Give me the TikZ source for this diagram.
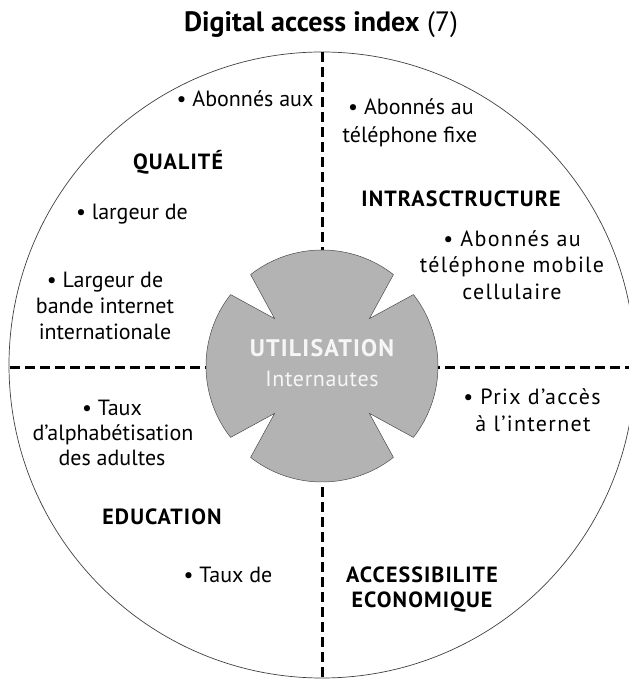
\documentclass[tikz,border=0pt]{standalone}
\usepackage{fontspec}
\setmainfont{PT Sans}
\definecolor{hubgrey}{HTML}{B3B3B3}
\definecolor{hubtext}{HTML}{F6F6F6}
\begin{document}
\begin{tikzpicture}[x=1pt,y=1pt,
  item/.style={font=\fontsize{22}{26}\selectfont, inner sep=0pt, anchor=base},
  spaced/.style={font={\fontsize{22}{26}\selectfont\addfontfeatures{LetterSpace=6}}},
  sector/.style={font={\fontsize{22}{26}\selectfont\bfseries\addfontfeatures{LetterSpace=5}}, inner sep=0pt, anchor=base},
  hublabel/.style={text=hubtext, inner sep=0pt, anchor=base},
  divider/.style={line width=3pt, dash pattern=on 10pt off 5pt},
]
\useasboundingbox (0,0) rectangle (629,680);

% outer wheel
\coordinate (O) at (322,315);
\draw[line width=0.7pt, black!75] (O) circle[radius=313];

% quadrant dividers
\coordinate (vtop) at (322,628);
\coordinate (vbot) at (322,0);
\coordinate (hl) at (10,312);
\coordinate (hr) at (629,312);
\draw[divider] (vtop) -- (vbot);
\draw[divider] (hl) -- (hr);

% central hub: a disc with four V-shaped notches on the diagonals
\begin{scope}[shift={(322,314)}]
\filldraw[fill=hubgrey, draw=black!70, line width=0.5pt]
  (52:116) arc[start angle=52, end angle=128, radius=116] -- (135:67) --
  (142:116) arc[start angle=142, end angle=218, radius=116] -- (225:67) --
  (232:116) arc[start angle=232, end angle=308, radius=116] -- (315:67) --
  (322:116) arc[start angle=322, end angle=398, radius=116] -- (45:67) -- cycle;
\end{scope}

% title
\node[inner sep=0pt, anchor=base, font=\fontsize{28}{32}\selectfont] (title) at (321,648)
  {\textbf{Digital access index} (7)};

% hub text
\node[hublabel, font={\fontsize{24}{28}\selectfont\bfseries\addfontfeatures{LetterSpace=5}}] (util) at (322,323) {UTILISATION};
\node[hublabel, font={\fontsize{22}{26}\selectfont\addfontfeatures{LetterSpace=3}}] (inet) at (322,293) {Internautes};

% sector headings
\node[sector] (qual) at (178,510) {QUALITÉ};
\node[sector] (infra) at (461,473) {INTRASCTRUCTURE};
\node[sector] (educ) at (162,155) {EDUCATION};
\node[sector] (acc1) at (422,97) {ACCESSIBILITE};
\node[sector] (acc2) at (422,72) {ECONOMIQUE};

% indicators: QUALITÉ
\node[item] (q1) at (245,573) {\textbullet\ Abonnés aux};
\node[item] (q2) at (132,460) {\textbullet\ largeur de};
\node[item] (q3a) at (105,392) {\textbullet\ Largeur de};
\node[item] (q3b) at (105,366) {bande internet};
\node[item] (q3c) at (105,340) {internationale};

% indicators: INTRASCTRUCTURE
\node[item] (i1a) at (411,565) {\textbullet\ Abonnés au};
\node[item] (i1b) at (410,537) {téléphone fixe};
\node[item, spaced] (i2a) at (512,433) {\textbullet\ Abonnés au};
\node[item, spaced] (i2b) at (512,407) {téléphone mobile};
\node[item, spaced] (i2c) at (512,380) {cellulaire};

% indicators: ACCESSIBILITE ECONOMIQUE
\node[item, spaced] (a1a) at (532,275) {\textbullet\ Prix d’accès};
\node[item, spaced] (a1b) at (533,248) {à l’internet};

% indicators: EDUCATION
\node[item] (e1a) at (112,264) {\textbullet\ Taux};
\node[item] (e1b) at (113,239) {d’alphabétisation};
\node[item] (e1c) at (112,214) {des adultes};
\node[item] (e2) at (228,97) {\textbullet\ Taux de};
\end{tikzpicture}
\end{document}
